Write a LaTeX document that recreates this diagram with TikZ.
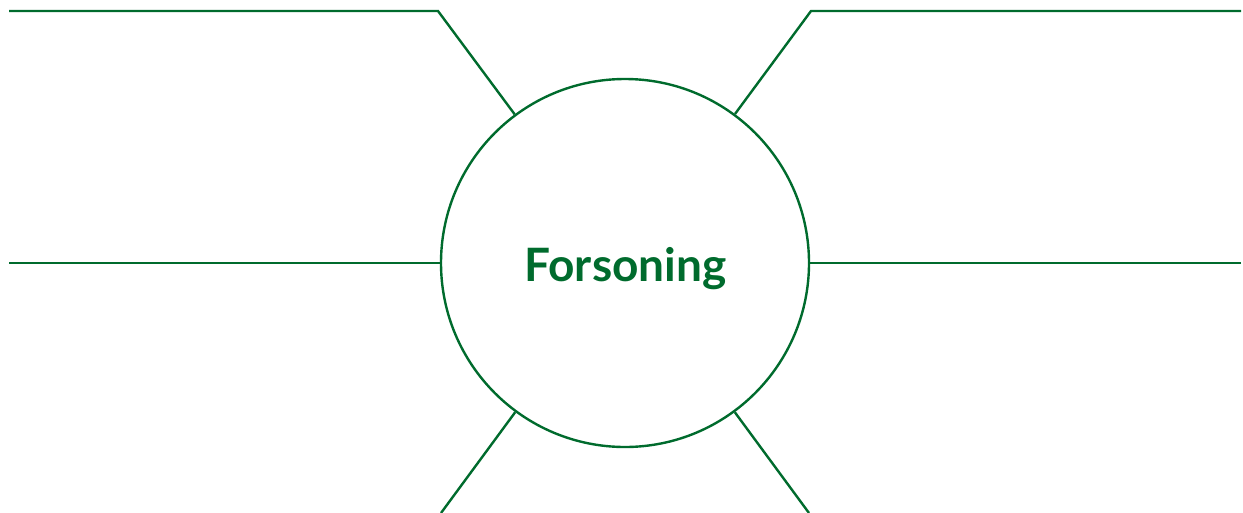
\documentclass[tikz,border=0pt]{standalone}
\usepackage{fontspec}
\setmainfont{Lato}
\definecolor{mgreen}{RGB}{0,107,45}
\begin{document}
\begin{tikzpicture}[x=1pt,y=-1pt,
  lnk/.style={draw=mgreen,line width=2.4pt},
  hub/.style={circle,draw=mgreen,line width=2.4pt,minimum size=368pt,inner sep=0pt}]
\useasboundingbox (0,0) rectangle (1243,512);
\node[hub] (c) at (625,263) {};
\node[anchor=base,text=mgreen,font=\fontsize{46}{50}\selectfont\bfseries,inner sep=0pt] (t) at (625.5,281) {Forsoning};
\coordinate (tl0) at (9,11);
\coordinate (tl1) at (438,11);
\coordinate (tr0) at (1241,11);
\coordinate (tr1) at (811,11);
\coordinate (ml) at (9,263);
\coordinate (mr) at (1241,263);
\coordinate (bl) at (441,513);
\coordinate (br) at (809,513);
\draw[lnk] (tl0) -- (tl1) -- (c);
\draw[lnk] (tr0) -- (tr1) -- (c);
\draw[lnk] (ml) -- (c);
\draw[lnk] (mr) -- (c);
\draw[lnk] (bl) -- (c);
\draw[lnk] (br) -- (c);
\end{tikzpicture}
\end{document}
